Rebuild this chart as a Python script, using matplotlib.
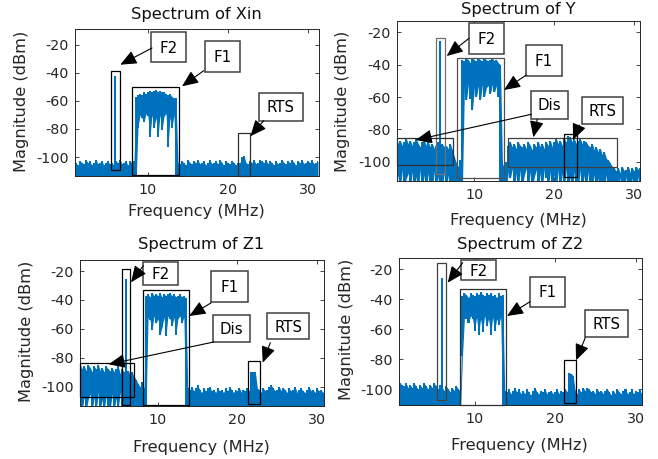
import numpy as np
import matplotlib
matplotlib.use('Agg')
import matplotlib.pyplot as plt
from matplotlib.patches import Rectangle, FancyArrowPatch

plt.rcParams['font.family'] = ['DejaVu Sans']
plt.rcParams['axes.unicode_minus'] = False

W, H = 658, 459
BLUE = '#0072BD'

# frequency bins (MHz), 0.25 MHz resolution
freq_bins = np.arange(126) * 0.25

# ---- Spectrum of Xin: max / min envelope per bin (dBm) ----
xin_hi = [-104, -103, -105, -102, -104, -106, -103, -104,
          -105, -102, -104, -103, -106, -104, -102, -105,
          -104, -103, -106, -104, -103, -105, -104, -106,
          -103, -104, -102, -105, -104, -103, -106, -103,
          -104, -103, -57, -56, -55, -56, -54, -55,
          -54, -53, -54, -53, -52, -54, -53, -54,
          -54, -55, -56, -55, -57, -58, -58, -104,
          -105, -103, -104, -106, -102, -104, -105, -103,
          -104, -102, -105, -104, -103, -106, -104, -102,
          -105, -104, -103, -105, -102, -104, -106, -103,
          -104, -105, -103, -104, -106, -104, -104, -100,
          -99, -104, -105, -103, -104, -102, -105, -104,
          -102, -103, -104, -102, -105, -103, -104, -106,
          -103, -105, -104, -102, -104, -105, -103, -104,
          -102, -104, -106, -103, -104, -102, -105, -104,
          -103, -104, -102, -105, -104, -103]
xin_lo = [-120] * 34 + [-120, -79, -70, -72, -75, -69,
          -71, -86, -70, -79, -72, -86, -70, -81,
          -71, -69, -93, -72, -79, -70, -120] + [-120] * 71

# ---- Spectrum of Y ----
y_hi = [-88, -86, -89, -87, -90, -88, -86, -89,
        -87, -90, -88, -86, -89, -91, -88, -87,
        -90, -88, -91, -89, -92, -90, -88, -91,
        -89, -91, -90, -92, -89, -93, -97, -101,
        -103, -99, -37, -38, -36, -37, -39, -36,
        -37, -38, -36, -37, -38, -36, -37, -38,
        -37, -36, -38, -37, -39, -40, -101, -104,
        -100, -90, -88, -91, -89, -92, -88, -90,
        -91, -89, -92, -88, -90, -93, -89, -91,
        -88, -91, -89, -92, -88, -90, -87, -91,
        -88, -86, -89, -87, -90, -86, -88, -84,
        -85, -88, -86, -89, -87, -86, -89, -87,
        -88, -90, -91, -89, -93, -91, -94, -92,
        -96, -94, -98, -99, -101, -103, -104, -106,
        -104, -107, -103, -106, -105, -103, -107, -104,
        -106, -103, -105, -104, -106, -104]
y_lo = [-106, -115, -108, -115, -105, -115, -110, -107,
        -115, -106, -115, -109, -115, -105, -115, -108,
        -115, -107, -115, -115, -106, -115, -109, -115,
        -115, -106, -115, -108, -115, -115, -115, -115,
        -115, -115, -115, -53, -62, -52, -61, -68,
        -54, -60, -53, -62, -52, -60, -54, -53,
        -58, -52, -57, -53, -60, -115, -115, -115,
        -115, -106, -110, -104, -115, -107, -115, -105,
        -115, -108, -104, -115, -106, -115, -109, -105,
        -115, -107, -115, -104, -110, -115, -106, -115,
        -108, -115, -105, -115, -107, -115, -104, -115,
        -109, -115, -106, -115, -115, -105, -115, -108,
        -115, -106, -115, -115, -108, -115, -110, -115,
        -115, -115, -108, -115, -115, -115, -115, -115,
        -115, -110, -115, -115, -109, -115, -115, -110,
        -115, -115, -109, -115, -115, -115]

# ---- Spectrum of Z1 ----
z1_hi = [-87, -85, -88, -86, -89, -85, -87, -90,
         -86, -88, -85, -89, -87, -90, -86, -88,
         -89, -87, -90, -88, -86, -91, -88, -90,
         -91, -89, -92, -90, -93, -95, -98, -100,
         -97, -101, -37, -36, -38, -35, -37, -36,
         -37, -35, -38, -36, -37, -36, -35, -37,
         -36, -38, -37, -36, -38, -37, -39, -101,
         -102, -100, -103, -101, -99, -102, -104, -101,
         -103, -101, -100, -103, -102, -104, -101, -103,
         -102, -104, -101, -103, -100, -102, -104, -102,
         -103, -101, -104, -102, -103, -101, -103, -90,
         -90, -90, -101, -102, -104, -101, -103, -102,
         -100, -99, -101, -103, -102, -100, -103, -101,
         -102, -104, -101, -103, -102, -100, -104, -102,
         -101, -103, -104, -102, -100, -103, -102, -104,
         -101, -103, -102, -104, -101, -103]
z1_lo = [-110, -104, -115, -106, -115, -108, -105, -115,
         -107, -115, -104, -115, -109, -115, -106, -115,
         -115, -105, -115, -108, -115, -104, -115, -115,
         -115, -115, -115, -115, -115, -115, -115, -115,
         -115, -115, -115, -52, -54, -61, -51, -56,
         -53, -64, -59, -52, -65, -51, -53, -58,
         -52, -64, -53, -51, -56, -52, -115, -115] + [-115] * 70

# ---- Spectrum of Z2 ----
z2_hi = [-88, -90, -93, -96, -97, -98, -96, -99,
         -97, -99, -96, -98, -100, -97, -99, -96,
         -98, -100, -97, -99, -96, -98, -100, -97,
         -99, -101, -98, -100, -102, -99, -101, -98,
         -100, -101, -38, -36, -37, -39, -36, -37,
         -38, -36, -37, -35, -37, -38, -36, -37,
         -36, -38, -37, -39, -36, -38, -37, -101,
         -102, -100, -103, -101, -99, -102, -100, -103,
         -101, -103, -100, -102, -104, -101, -99, -102,
         -103, -101, -102, -100, -103, -102, -101, -103,
         -102, -100, -103, -101, -102, -99.5, -102, -89,
         -89.5, -91, -101, -103, -100, -102, -99, -101,
         -99, -100, -102, -101, -103, -100, -102, -101,
         -103, -101, -100, -102, -104, -101, -103, -100,
         -102, -103, -101, -100, -103, -102, -100, -103,
         -101, -102, -100, -103, -101, -102]
z2_lo = [-115] * 34 + [-78, -52, -53, -56, -51, -53,
         -61, -52, -64, -53, -62, -51, -58, -53,
         -64, -52, -61, -53, -57, -52, -115] + [-115] * 71

# F2 tones: frequency (MHz), peak (dBm)
tone_f = [5.91, 5.69, 5.97, 6.00]
tone_db = [-42.5, -25.2, -25.3, -25.6]

titles = ['Spectrum of Xin', 'Spectrum of Y', 'Spectrum of Z1', 'Spectrum of Z2']
his = [xin_hi, y_hi, z1_hi, z2_hi]
los = [xin_lo, y_lo, z1_lo, z2_lo]

# layout (pixels): left, right, top, bottom
axes_px = [(74.7, 318.7, 29.0, 176.3), (396.7, 640.0, 21.0, 180.7),
           (79.7, 324.3, 260.3, 405.7), (398.7, 642.0, 257.7, 405.3)]
xlims = [(0.84, 31.34), (0.28, 30.69), (0.15, 30.92), (0.58, 30.8)]
ylims = [(-113.7, -8.8), (-111.7, -13.0), (-113.1, -12.6), (-110.7, -12.3)]
title_px = [(196.7, 15), (518.5, 9.5), (201.5, 245), (519.7, 244)]
xlab_px = [(196.7, 211), (518.0, 220), (201.7, 447.3), (519.7, 445.7)]
ylab_px = [(21.7, 101.7), (342.4, 101.7), (27.0, 331.5), (346.3, 329.8)]

# highlight rectangles (data coords): f0, f1, dB0, dB1, colour
rects = [
    [(5.41, 6.54, -109.5, -38.9, 'black'), (8.04, 13.91, -112.6, -50.3, 'black'),
     (21.21, 22.71, -113.3, -82.7, '#303030')],
    [(5.23, 6.35, -107.8, -23.7, '#707070'), (7.85, 13.69, -110.3, -36.1, '#505050'),
     (0.28, 7.35, -102.2, -85.3, '#303030'), (14.15, 27.85, -103.5, -85.3, '#404040'),
     (21.19, 22.78, -109.6, -83.1, 'black')],
    [(5.43, 6.52, -112.7, -18.8, 'black'), (8.08, 13.94, -112.7, -33.3, 'black'),
     (0.15, 6.94, -106.9, -83.4, 'black'), (21.32, 22.83, -112.0, -82.4, 'black')],
    [(5.38, 6.50, -107.3, -16.0, '#404040'), (8.16, 13.95, -110.7, -33.3, '#303030'),
     (21.16, 22.65, -109.1, -80.7, 'black')],
]

# text boxes (pixels): label, x0, x1, y0, y1
boxes = [
    ('F2', 151, 186.3, 32, 62.3), ('F1', 205.3, 240.3, 41.3, 72), ('RTS', 258.7, 303, 93, 120.7),
    ('F2', 468.7, 504, 23.3, 54), ('F1', 526.3, 561.7, 45, 75.7), ('Dis', 531.3, 568.3, 91.3, 118.7),
    ('RTS', 582.3, 623.3, 97.3, 124),
    ('F2', 142.7, 177.7, 261.7, 285.3), ('F1', 211.3, 247.7, 271, 302), ('Dis', 212.7, 250, 315, 342),
    ('RTS', 267.3, 308.7, 312.7, 339.3),
    ('F2', 461, 496, 260.3, 280.3), ('F1', 530, 565.3, 276.7, 307), ('RTS', 585, 628.3, 310.3, 337.3),
]
# arrows (pixels): start -> tip
arrows = [
    ((152, 48), (120.3, 64.7)), ((203.7, 70.7), (182, 86.3)), ((263.7, 120.7), (250.3, 136.3)),
    ((469, 38.3), (446.7, 56)), ((526.3, 75), (504, 90)), ((531.3, 114.3), (415.7, 140)),
    ((537.3, 119.3), (533.3, 137.3)), ((579.3, 125), (573, 140)),
    ((143.3, 265.7), (131, 282.3)), ((211.3, 302.7), (189.3, 316)), ((213.7, 342), (108.7, 364.3)),
    ((270.3, 342.7), (262.7, 362.7)),
    ((462.7, 262.7), (447.7, 282.7)), ((530, 301.7), (507, 316)), ((585.3, 337.7), (576, 360.3)),
]


def fx(x):
    return x / W


def fy(y):
    return 1 - y / H


fig = plt.figure(figsize=(W / 100, H / 100), dpi=100)
fig.patch.set_facecolor('white')

for i in range(4):
    l, r, t, b = axes_px[i]
    ax = fig.add_axes([fx(l), fy(b), (r - l) / W, (b - t) / H])
    # min/max envelope of the spectrum trace: per-bin bars plus the connecting trace
    ax.fill_between(freq_bins, los[i], his[i], step='mid', color=BLUE, lw=0, zorder=2)
    ax.fill_between(freq_bins, los[i], his[i], color=BLUE, lw=0, zorder=2)
    ax.vlines([tone_f[i]], ylims[i][0] - 5, [tone_db[i]], color=BLUE, lw=1.5, zorder=2)
    ax.set_xlim(*xlims[i])
    ax.set_ylim(*ylims[i])
    ax.set_xticks([10, 20, 30])
    ax.set_yticks([-100, -80, -60, -40, -20])
    ax.tick_params(direction='in', top=True, right=True, length=3, width=0.6,
                   color='#262626', labelsize=10.3, labelcolor='#262626')
    ax.tick_params(axis='x', pad=5)
    ax.tick_params(axis='y', pad=4.5)
    for s in ax.spines.values():
        s.set_linewidth(0.7)
        s.set_color('#262626')
    for (f0, f1, d0, d1, c) in rects[i]:
        ax.add_patch(Rectangle((f0, d0), f1 - f0, d1 - d0, fill=False, ec=c, lw=0.9,
                               clip_on=False, zorder=4))
    fig.text(fx(title_px[i][0]), fy(title_px[i][1]), titles[i], ha='center', va='center',
             fontsize=11.7, color='#111111')
    fig.text(fx(xlab_px[i][0]), fy(xlab_px[i][1]), 'Frequency (MHz)', ha='center', va='center',
             fontsize=11.7, color='#262626')
    fig.text(fx(ylab_px[i][0]), fy(ylab_px[i][1]), 'Magnitude (dBm)', ha='center', va='center',
             rotation=90, fontsize=11.7, color='#262626')

for (lab, x0, x1, y0, y1) in boxes:
    fig.add_artist(Rectangle((fx(x0), fy(y1)), (x1 - x0) / W, (y1 - y0) / H,
                             transform=fig.transFigure, fc='white', ec='#404040', lw=1.1, zorder=5))
    fig.text(fx((x0 + x1) / 2), fy((y0 + y1) / 2 + 1), lab, ha='center', va='center',
             fontsize=10.8, color='black', zorder=6)

for (p0, p1) in arrows:
    fig.add_artist(FancyArrowPatch((fx(p0[0]), fy(p0[1])), (fx(p1[0]), fy(p1[1])),
                                   transform=fig.transFigure,
                                   arrowstyle='-|>,head_length=10,head_width=4.3',
                                   mutation_scale=1, color='black', lw=0.8,
                                   shrinkA=0, shrinkB=0, zorder=7))

fig.savefig('out.png', dpi=100)
